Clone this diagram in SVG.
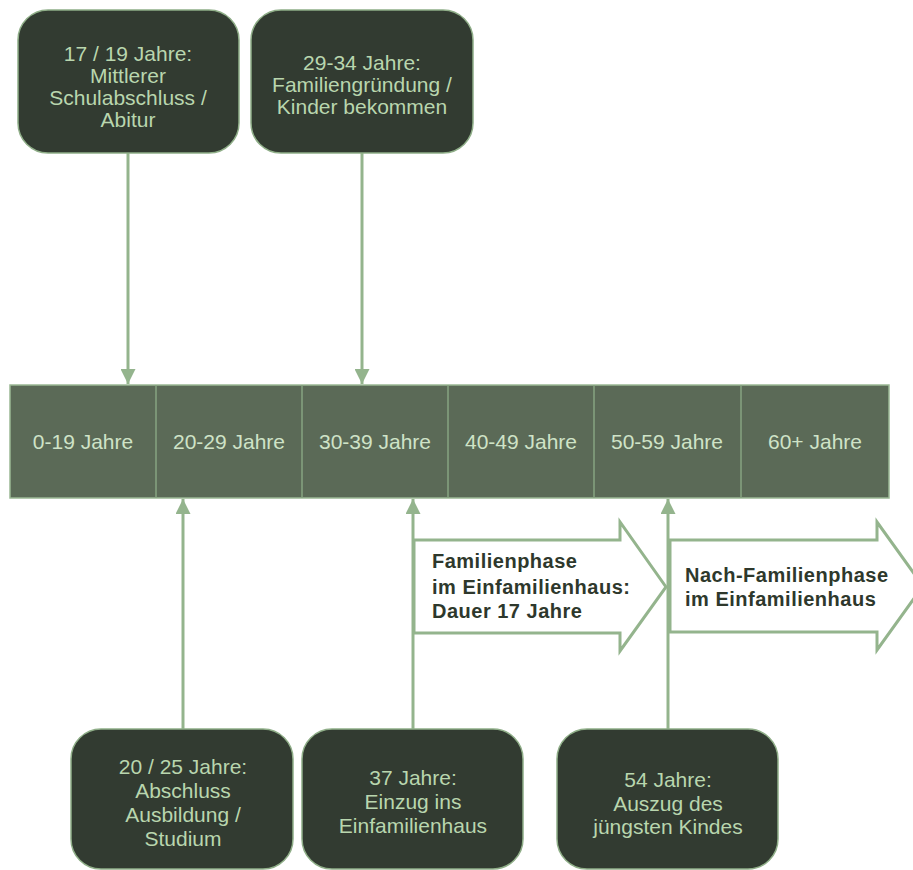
<svg xmlns="http://www.w3.org/2000/svg" width="913" height="870" viewBox="0 0 913 870">
<defs>
<style>
.box{fill:#323b31;stroke:#8fae88;stroke-width:1.5}
.bt{font-family:"Liberation Sans",Arial,sans-serif;font-size:21px;fill:#b9d6ae;text-anchor:middle}
.cell{fill:#5b6a57;stroke:#9ab894;stroke-width:1.5}
.div{stroke:#86a580;stroke-width:1.5}
.ct{font-family:"Liberation Sans",Arial,sans-serif;font-size:21px;fill:#cfe3c7;text-anchor:middle}
.con{stroke:#94b48d;stroke-width:3;fill:none}
.ar{fill:#ffffff;stroke:#94b48d;stroke-width:3;stroke-linejoin:miter}
.at{font-family:"Liberation Sans",Arial,sans-serif;font-size:20px;font-weight:bold;fill:#2e382c;letter-spacing:0.5px}
</style>
<marker id="ah" viewBox="0 0 10 10" refX="10" refY="5" markerWidth="5" markerHeight="5" orient="auto" markerUnits="strokeWidth">
<path d="M0,0 L10,5 L0,10 z" fill="#94b48d"/>
</marker>
</defs>
<rect width="913" height="870" fill="#ffffff"/>

<g id="connectors">
<line class="con" x1="128" y1="153" x2="128" y2="384" marker-end="url(#ah)"/>
<line class="con" x1="362" y1="153" x2="362" y2="384" marker-end="url(#ah)"/>
<line class="con" x1="183" y1="729" x2="183" y2="499" marker-end="url(#ah)"/>
<line class="con" x1="413" y1="729" x2="413" y2="499" marker-end="url(#ah)"/>
<line class="con" x1="668" y1="729" x2="668" y2="499" marker-end="url(#ah)"/>
</g>

<g id="timeline">
<rect class="cell" x="10" y="385" width="879" height="113"/>
<line class="div" x1="156" y1="385" x2="156" y2="498"/>
<line class="div" x1="302" y1="385" x2="302" y2="498"/>
<line class="div" x1="448" y1="385" x2="448" y2="498"/>
<line class="div" x1="594" y1="385" x2="594" y2="498"/>
<line class="div" x1="741" y1="385" x2="741" y2="498"/>
<text class="ct" x="83" y="449">0-19 Jahre</text>
<text class="ct" x="229" y="449">20-29 Jahre</text>
<text class="ct" x="375" y="449">30-39 Jahre</text>
<text class="ct" x="521" y="449">40-49 Jahre</text>
<text class="ct" x="667" y="449">50-59 Jahre</text>
<text class="ct" x="815" y="449">60+ Jahre</text>
</g>

<g id="box-schulabschluss">
<rect class="box" x="18" y="10" width="221" height="143" rx="30"/>
<text class="bt" x="128" y="61">17 / 19 Jahre:</text>
<text class="bt" x="128" y="83">Mittlerer</text>
<text class="bt" x="128" y="105">Schulabschluss /</text>
<text class="bt" x="128" y="127">Abitur</text>
</g>

<g id="box-familiengruendung">
<rect class="box" x="251" y="10" width="222" height="143" rx="30"/>
<text class="bt" x="362" y="70">29-34 Jahre:</text>
<text class="bt" x="362" y="92">Familiengründung /</text>
<text class="bt" x="362" y="114">Kinder bekommen</text>
</g>

<g id="box-ausbildung">
<rect class="box" x="71" y="729" width="222" height="140" rx="30"/>
<text class="bt" x="183" y="774">20 / 25 Jahre:</text>
<text class="bt" x="183" y="798">Abschluss</text>
<text class="bt" x="183" y="822">Ausbildung /</text>
<text class="bt" x="183" y="846">Studium</text>
</g>

<g id="box-einzug">
<rect class="box" x="302" y="729" width="221" height="140" rx="30"/>
<text class="bt" x="413" y="785">37 Jahre:</text>
<text class="bt" x="413" y="809">Einzug ins</text>
<text class="bt" x="413" y="833">Einfamilienhaus</text>
</g>

<g id="box-auszug">
<rect class="box" x="557" y="729" width="221" height="140" rx="30"/>
<text class="bt" x="668" y="787">54 Jahre:</text>
<text class="bt" x="668" y="811">Auszug des</text>
<text class="bt" x="668" y="834">jüngsten Kindes</text>
</g>

<g id="arrow-familienphase">
<path class="ar" d="M414,540 L620,540 L620,522 L666,587 L620,651 L620,633 L414,633 Z"/>
<text class="at" x="432" y="568">Familienphase</text>
<text class="at" x="432" y="594">im Einfamilienhaus:</text>
<text class="at" x="432" y="618">Dauer 17 Jahre</text>
</g>

<g id="arrow-nachfamilienphase">
<path class="ar" d="M670,540 L877,540 L877,522 L923,586 L877,650 L877,632 L670,632 Z"/>
<text class="at" x="685" y="582">Nach-Familienphase</text>
<text class="at" x="685" y="606">im Einfamilienhaus</text>
</g>
</svg>
